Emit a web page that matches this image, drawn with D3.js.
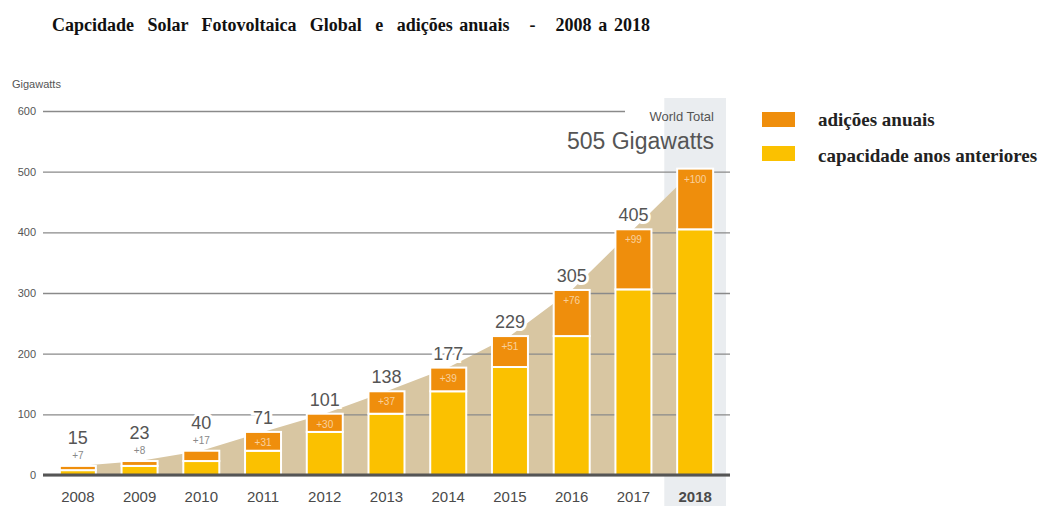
<!DOCTYPE html>
<html>
<head>
<meta charset="utf-8">
<script src="https://cdn.jsdelivr.net/npm/d3@7"></script>
<style>
  body { margin: 0; background: #fff; }
  svg { display: block; }
</style>
</head>
<body>
<div id="chart"></div>
<script>
const years = ['2008', '2009', '2010', '2011', '2012', '2013', '2014', '2015', '2016', '2017', '2018'];
const previous = [8, 15, 23, 40, 71, 101, 138, 178, 229, 306, 405];
const additions = [7, 8, 17, 31, 30, 37, 39, 51, 76, 99, 100];
const totals = [15, 23, 40, 71, 101, 138, 177, 229, 305, 405, 505];
const yTicks = [0, 100, 200, 300, 400, 500, 600];
const legendLabels = ['adições anuais', 'capacidade anos anteriores'];
const titleText = 'Capcidade  Solar  Fotovoltaica  Global  e  adições anuais   -   2008 a 2018';

const width = 1041, height = 506;
const gridLeft = 43, gridRight = 730;

const svg = d3.select('#chart').append('svg')
  .attr('width', width)
  .attr('height', height);

const x = d3.scaleBand()
  .domain(years)
  .range([47.5, 725.5])
  .paddingInner(0.417)
  .paddingOuter(0.2);

const y = d3.scaleLinear()
  .domain([0, 600])
  .range([475, 111]);

const colorPrev = '#fbc100';
const colorAdd = '#ef8e0c';

// title
svg.append('text')
  .attr('x', 52)
  .attr('y', 31)
  .attr('font-family', 'Liberation Serif, serif')
  .attr('font-weight', 'bold')
  .attr('font-size', 18)
  .attr('word-spacing', 2.2)
  .attr('fill', '#111')
  .style('white-space', 'pre')
  .text(titleText);

// highlight band for last year
const last = years[years.length - 1];
svg.append('rect')
  .attr('x', x(last) - x.step() * x.paddingInner() / 2)
  .attr('y', 98)
  .attr('width', x.step())
  .attr('height', height - 98)
  .attr('fill', '#eaedf0');

// beige area behind bars
const area = d3.area()
  .x((d, i) => x(years[i]) + x.bandwidth() / 2)
  .y0(y(0))
  .y1(d => y(d));
svg.append('path')
  .datum(totals)
  .attr('d', area)
  .attr('fill', '#d8c6a2');

// gridlines + tick labels
const yAxis = svg.append('g')
  .attr('transform', `translate(${gridLeft},0)`)
  .call(d3.axisLeft(y).tickValues(yTicks).tickSize(-(gridRight - gridLeft)).tickPadding(7));
yAxis.select('.domain').remove();
yAxis.selectAll('.tick line')
  .attr('stroke', '#8a8a8a')
  .attr('stroke-width', 1.3)
  .attr('x2', d => d === 600 ? 625 - gridLeft : gridRight - gridLeft);
yAxis.selectAll('.tick text')
  .attr('fill', '#555')
  .attr('font-size', 11)
  .attr('font-family', 'Liberation Sans, Arial, sans-serif');

svg.append('text')
  .attr('x', 12)
  .attr('y', 88)
  .attr('font-family', 'Liberation Sans, Arial, sans-serif')
  .attr('font-size', 11)
  .attr('fill', '#555')
  .text('Gigawatts');

// bars
const bars = svg.append('g');
bars.selectAll('.prev')
  .data(previous)
  .enter().append('rect')
  .attr('class', 'prev')
  .attr('x', (d, i) => x(years[i]))
  .attr('y', d => y(d))
  .attr('width', x.bandwidth())
  .attr('height', d => y(0) - y(d))
  .attr('fill', colorPrev)
  .attr('stroke', '#fff')
  .attr('stroke-width', 2);
bars.selectAll('.add')
  .data(additions)
  .enter().append('rect')
  .attr('class', 'add')
  .attr('x', (d, i) => x(years[i]))
  .attr('y', (d, i) => y(previous[i] + d))
  .attr('width', x.bandwidth())
  .attr('height', (d, i) => y(previous[i]) - y(previous[i] + d))
  .attr('fill', colorAdd)
  .attr('stroke', '#fff')
  .attr('stroke-width', 2);

// baseline over bars
svg.append('line')
  .attr('x1', gridLeft).attr('x2', gridRight)
  .attr('y1', y(0)).attr('y2', y(0))
  .attr('stroke', '#555').attr('stroke-width', 3);

// addition labels
const small = 3; // first bars have labels above
svg.selectAll('.addLabel')
  .data(additions)
  .enter().append('text')
  .attr('class', 'addLabel')
  .attr('x', (d, i) => x(years[i]) + x.bandwidth() / 2)
  .attr('y', (d, i) => i < small ? y(totals[i]) - 7 : y(previous[i] + d) + 14)
  .attr('text-anchor', 'middle')
  .attr('font-family', 'Liberation Sans, Arial, sans-serif')
  .attr('font-size', 10)
  .attr('fill', (d, i) => i < small ? '#888' : 'rgba(255,255,255,0.6)')
  .text(d => '+' + d);

// total labels
svg.selectAll('.totLabel')
  .data(totals.slice(0, totals.length - 1))
  .enter().append('text')
  .attr('class', 'totLabel')
  .attr('x', (d, i) => x(years[i]) + x.bandwidth() / 2)
  .attr('y', (d, i) => i < small ? y(d) - 22 : y(d) - 8)
  .attr('text-anchor', 'middle')
  .attr('font-family', 'Liberation Sans, Arial, sans-serif')
  .attr('font-size', 18)
  .attr('fill', '#555')
  .attr('stroke', '#fff')
  .attr('stroke-width', 6)
  .attr('paint-order', 'stroke')
  .text(d => d);

// world total
svg.append('text')
  .attr('x', 714).attr('y', 121)
  .attr('text-anchor', 'end')
  .attr('font-family', 'Liberation Sans, Arial, sans-serif')
  .attr('font-size', 13)
  .attr('fill', '#555')
  .text('World Total');
svg.append('text')
  .attr('x', 714).attr('y', 149)
  .attr('text-anchor', 'end')
  .attr('font-family', 'Liberation Sans, Arial, sans-serif')
  .attr('font-size', 23)
  .attr('fill', '#555')
  .text(totals[totals.length - 1] + ' Gigawatts');

// year labels
svg.selectAll('.year')
  .data(years)
  .enter().append('text')
  .attr('class', 'year')
  .attr('x', d => x(d) + x.bandwidth() / 2)
  .attr('y', 502)
  .attr('text-anchor', 'middle')
  .attr('font-family', 'Liberation Sans, Arial, sans-serif')
  .attr('font-size', 15)
  .attr('font-weight', d => d === last ? 'bold' : 'normal')
  .attr('fill', '#4a4a4a')
  .text(d => d);

// legend
const legend = svg.append('g');
[colorAdd, colorPrev].forEach((c, i) => {
  legend.append('rect')
    .attr('x', 762).attr('y', 112 + i * 34)
    .attr('width', 33).attr('height', 15)
    .attr('fill', c);
  legend.append('text')
    .attr('x', 818).attr('y', 126 + i * 36)
    .attr('font-family', 'Liberation Serif, serif')
    .attr('font-weight', 'bold')
    .attr('font-size', 19)
    .attr('fill', '#222')
    .text(legendLabels[i]);
});
</script>
</body>
</html>
